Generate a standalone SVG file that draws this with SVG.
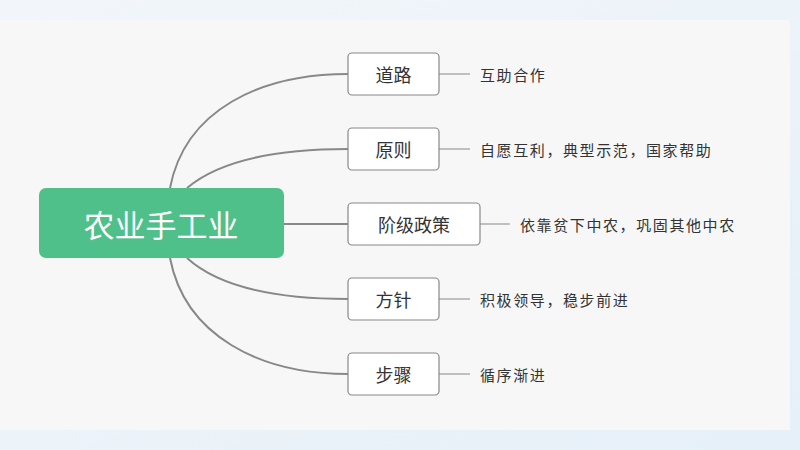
<svg xmlns="http://www.w3.org/2000/svg" width="800" height="450" viewBox="0 0 800 450">
<style>
.b{fill:#fff;stroke:#888;stroke-width:1.2}
.bt{font-family:"Noto Sans CJK SC",sans-serif;font-size:18px;fill:#333;text-anchor:middle;dominant-baseline:central}
.lt{font-family:"Noto Sans CJK SC",sans-serif;font-size:15px;letter-spacing:1.6px;fill:#333;dominant-baseline:central}
.c{fill:none;stroke:#888;stroke-width:2}
.l{stroke:#999;stroke-width:1.2}
</style>
<defs><linearGradient id="g" x1="0" y1="0" x2="1" y2="1"><stop offset="0" stop-color="#f2f6fa"/><stop offset="1" stop-color="#e6f0f8"/></linearGradient></defs>
<rect width="800" height="450" fill="url(#g)"/>
<rect x="0" y="20" width="790" height="410" fill="#f7f7f7"/>
<g id="connectors">
<path class="c" d="M170,188 C185,110 260,74 348,74"/>
<path class="c" d="M187,188 C220,160 280,149 348,149"/>
<path class="c" d="M284,224 H348"/>
<path class="c" d="M187,258 C220,288 280,299 348,299"/>
<path class="c" d="M170,258 C185,336 260,374 348,374"/>
<line class="l" x1="439" y1="74" x2="470" y2="74"/>
<line class="l" x1="439" y1="149" x2="470" y2="149"/>
<line class="l" x1="480" y1="224" x2="510" y2="224"/>
<line class="l" x1="439" y1="299" x2="470" y2="299"/>
<line class="l" x1="439" y1="374" x2="470" y2="374"/>
</g>
<g id="root"><rect x="39" y="188" width="245" height="70" rx="7" fill="#4fc08a"/><text x="161" y="223" font-family="Noto Sans CJK SC,sans-serif" font-size="31" fill="#fff" text-anchor="middle" dominant-baseline="central">农业手工业</text></g>
<g id="n1"><rect class="b" x="348" y="53" width="91" height="42" rx="4"/><text class="bt" x="393.5" y="74">道路</text><text class="lt" x="480" y="74">互助合作</text></g>
<g id="n2"><rect class="b" x="348" y="128" width="91" height="42" rx="4"/><text class="bt" x="393.5" y="149">原则</text><text class="lt" x="480" y="149">自愿互利，典型示范，国家帮助</text></g>
<g id="n3"><rect class="b" x="348" y="203" width="132" height="42" rx="4"/><text class="bt" x="414" y="224">阶级政策</text><text class="lt" x="520" y="224">依靠贫下中农，巩固其他中农</text></g>
<g id="n4"><rect class="b" x="348" y="278" width="91" height="42" rx="4"/><text class="bt" x="393.5" y="299">方针</text><text class="lt" x="480" y="299">积极领导，稳步前进</text></g>
<g id="n5"><rect class="b" x="348" y="353" width="91" height="42" rx="4"/><text class="bt" x="393.5" y="374">步骤</text><text class="lt" x="480" y="374">循序渐进</text></g>
</svg>
